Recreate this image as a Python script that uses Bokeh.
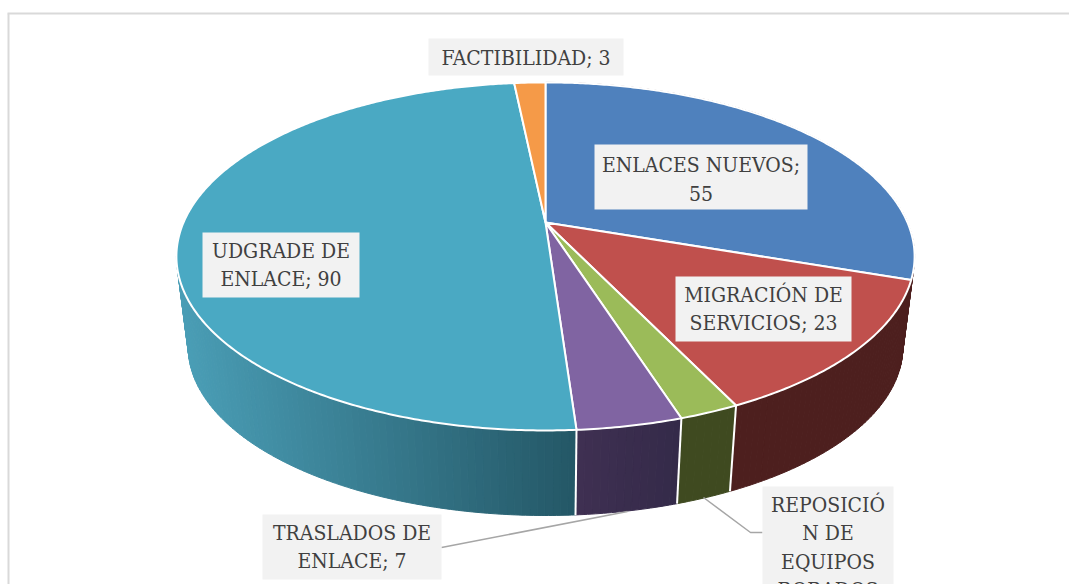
import numpy as np
from bokeh.plotting import figure
from bokeh.models import Range1d
from bokeh.core.properties import value
from bokeh.embed import file_html
from bokeh.resources import INLINE

# ---- data
categories = ["ENLACES NUEVOS", "MIGRACIÓN DE SERVICIOS", "REPOSICIÓN DE EQUIPOS ROBADOS",
              "TRASLADOS DE ENLACE", "UDGRADE DE ENLACE", "FACTIBILIDAD"]
values = [55, 23, 4, 7, 90, 3]
colors = ["#4f81bd", "#c0504d", "#9bbb59", "#8064a2", "#4aa9c3", "#f59a48"]
wall_left = ["#4d1f1e", "#4d1f1e", "#3f4a20", "#3f3052", "#4a9eb6", "#f59a48"]
wall_right = ["#4d1f1e", "#4d1f1e", "#3f4a20", "#342a49", "#245766", "#f59a48"]

label_lines = [["ENLACES NUEVOS;", "55"], ["MIGRACIÓN DE", "SERVICIOS; 23"],
               ["REPOSICIÓ", "N DE", "EQUIPOS", "ROBADOS"], ["TRASLADOS DE", "ENLACE; 7"],
               ["UDGRADE DE", "ENLACE; 90"], ["FACTIBILIDAD; 3"]]

# ---- layout (window pixels)
CX, CY, A, B, K = 545.0, 222.0, 362.0, 167.4, 0.195
LOW_S, LOW_Y = 0.968, 313.7
label_boxes = [(594, 807, 144, 209), (675, 851, 276, 341), (762, 893, 486, 620),
               (262, 441, 514, 579), (202, 359, 232, 297), (428, 623, 38, 75)]
label_first_y = [164, 294, 504, 532, 250, 57]
LINE_H = 28.5
FONT = "DejaVu Serif Condensed"
FONT_SIZE = "21px"


def top(theta):
    t = np.radians(theta)
    d = 1 + K * np.cos(t)
    return CX + A * np.sin(t) / d, CY - B * np.cos(t) / d


def low(theta):
    t = np.radians(theta)
    d = 1 + K * np.cos(t)
    return CX + LOW_S * A * np.sin(t) / d, LOW_Y - LOW_S * B * np.cos(t) / d


def hex2rgb(h):
    return np.array([int(h[i:i + 2], 16) for i in (1, 3, 5)], float)


def mix(c1, c2, f):
    v = hex2rgb(c1) * (1 - f) + hex2rgb(c2) * f
    return "#%02x%02x%02x" % tuple(int(round(x)) for x in v)


p = figure(width=1069, height=584, x_range=Range1d(0, 1069), y_range=Range1d(584, 0),
           output_backend="svg", toolbar_location=None, min_border=0, outline_line_color=None,
           background_fill_color="white", border_fill_color="white")
p.axis.visible = False
p.grid.visible = False

# frame
p.line([8, 8], [584, 13], line_color="#d9d9d9", line_width=2)
p.line([7, 1069], [13, 13], line_color="#d9d9d9", line_width=2)

edges = 360 * np.cumsum([0] + values) / sum(values)
SIL_R, SIL_L = 101.2, 258.8   # angles where the rim turns away

# side walls
for i in range(len(values)):
    a0, a1 = edges[i], min(edges[i + 1], SIL_L)
    if i == 1:
        a0 = SIL_R
    if a1 <= a0 or edges[i + 1] <= SIL_R:
        continue
    n = max(2, int((a1 - a0) / 1.0))
    grid = np.linspace(a0, a1, n + 1)
    lx, rx = low(a1)[0], low(a0)[0]
    for g0, g1 in zip(grid[:-1], grid[1:]):
        ang = np.linspace(g0, g1, 3)
        tx, ty = top(ang)
        bx, by = low(ang)
        if i == 1:
            tx, ty = top(np.maximum(ang, edges[1]))
        f = float((low((g0 + g1) / 2)[0] - lx) / max(rx - lx, 1))
        c = mix(wall_left[i], wall_right[i], f)
        p.patch(list(tx) + list(bx[::-1]), list(ty) + list(by[::-1]), fill_color=c, line_color=c, line_width=1)

# wall separators
for e in edges[1:]:
    if SIL_R < e < SIL_L and e != edges[1]:
        x0, y0 = top(e)
        x1, y1 = low(e)
        p.line([x0, x1], [y0, y1], line_color="white", line_width=2)

# leader lines
p.line([441, 627], [547, 511], line_color="#a6a6a6", line_width=1.5)
p.line([703, 750, 762], [497, 532, 532], line_color="#a6a6a6", line_width=1.5)

# top face
for i in range(len(values)):
    ang = np.linspace(edges[i], edges[i + 1], max(3, int(edges[i + 1] - edges[i]) * 2))
    x, y = top(ang)
    p.patch([CX] + list(x), [CY] + list(y), fill_color=colors[i], line_color="white",
            line_width=2, line_join="round")

# labels
for i, lines in enumerate(label_lines):
    l, r, t, b = label_boxes[i]
    p.quad(left=[l], right=[r], top=[t], bottom=[b], fill_color="#f2f2f2", line_color=None)
    ys = [label_first_y[i] + k * LINE_H for k in range(len(lines))]
    p.text(x=[(l + r) / 2] * len(lines), y=ys, text=lines, text_align="center", text_baseline="middle",
           text_color="#404040", text_font=value(FONT), text_font_size=FONT_SIZE)

open("out.html", "w").write(file_html(p, INLINE))
